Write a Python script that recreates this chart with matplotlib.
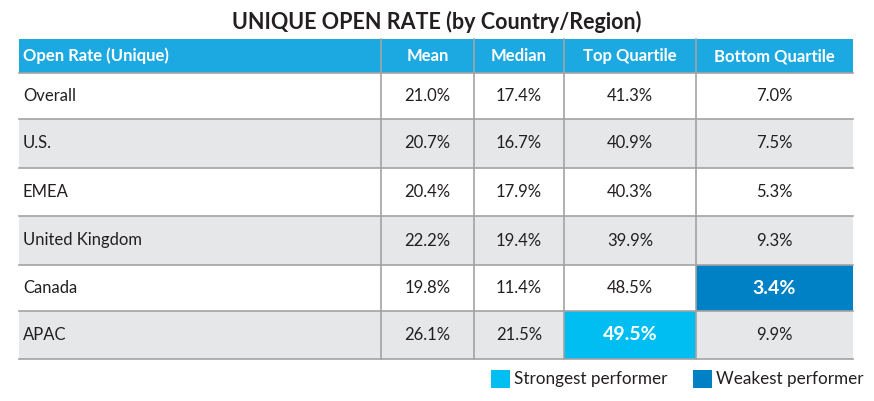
import matplotlib.pyplot as plt
from matplotlib.patches import Rectangle

# data
columnas = ['Open Rate (Unique)', 'Mean', 'Median', 'Top Quartile', 'Bottom Quartile']
regiones = ['Overall', 'U.S.', 'EMEA', 'United Kingdom', 'Canada', 'APAC']
mean = ['21.0%', '20.7%', '20.4%', '22.2%', '19.8%', '26.1%']
median = ['17.4%', '16.7%', '17.9%', '19.4%', '11.4%', '21.5%']
top_q = ['41.3%', '40.9%', '40.3%', '39.9%', '48.5%', '49.5%']
bottom_q = ['7.0%', '7.5%', '5.3%', '9.3%', '3.4%', '9.9%']
strongest = (5, 3)   # (row, col)
weakest = (4, 4)

plt.rcParams['font.family'] = ['Lato', 'DejaVu Sans']

# layout in pixels
col_x = [19, 381, 474, 564, 696, 853]
row_y = [39, 73, 119, 168, 216, 265, 311, 359]
azul_head = '#1CA9E1'
azul_fuerte = '#00BDF2'
azul_debil = '#0081C6'
gris = '#E6E7E8'
linea = '#A3A3A3'
texto = '#231F20'

fig = plt.figure(figsize=(8.74, 4.01), dpi=100)
ax = fig.add_axes([0, 0, 1, 1])
ax.set_xlim(0, 874)
ax.set_ylim(401, 0)
ax.axis('off')

ax.text(437, 22, 'UNIQUE OPEN RATE (by Country/Region)', ha='center', va='center',
        fontsize=15.5, fontweight='bold', color=texto)

# header
ax.add_patch(Rectangle((col_x[0], row_y[0]), col_x[-1]-col_x[0], row_y[1]-row_y[0],
                       facecolor=azul_head, edgecolor='none'))
yc = (row_y[0]+row_y[1])/2
for j, c in enumerate(columnas):
    if j == 0:
        ax.text(col_x[0]+4, yc, c, ha='left', va='center', color='white', fontsize=12, fontweight='bold')
    else:
        ax.text((col_x[j]+col_x[j+1])/2, yc, c, ha='center', va='center', color='white',
                fontsize=12, fontweight='bold')

tabla = list(zip(regiones, mean, median, top_q, bottom_q))
for i, fila in enumerate(tabla):
    y0, y1 = row_y[i+1], row_y[i+2]
    fondo = gris if i % 2 == 1 else 'white'
    ax.add_patch(Rectangle((col_x[0], y0), col_x[-1]-col_x[0], y1-y0, facecolor=fondo, edgecolor='none'))
    yc = (y0+y1)/2
    for j, v in enumerate(fila):
        if j == 0:
            ax.text(col_x[0]+4, yc, v, ha='left', va='center', color=texto, fontsize=12)
            continue
        xc = (col_x[j]+col_x[j+1])/2
        if (i, j) == strongest or (i, j) == weakest:
            c = azul_fuerte if (i, j) == strongest else azul_debil
            ax.add_patch(Rectangle((col_x[j], y0), col_x[j+1]-col_x[j], y1-y0, facecolor=c, edgecolor='none', zorder=2))
            ax.text(xc, yc, v, ha='center', va='center', color='white', fontsize=14, fontweight='bold', zorder=3)
        else:
            ax.text(xc, yc, v, ha='center', va='center', color=texto, fontsize=12)

# lines
for y in row_y[1:]:
    ax.plot([col_x[0], col_x[-1]], [y, y], color=linea, lw=1.2, zorder=4)
for x in col_x[1:-1]:
    ax.plot([x, x], [row_y[0], row_y[-1]], color=linea, lw=1.2, zorder=4)

# legend
ax.add_patch(Rectangle((491, 370), 19, 18, facecolor=azul_fuerte, edgecolor='none'))
ax.text(514, 379, 'Strongest performer', ha='left', va='center', color=texto, fontsize=12.3)
ax.add_patch(Rectangle((693, 370), 19, 18, facecolor=azul_debil, edgecolor='none'))
ax.text(716, 379, 'Weakest performer', ha='left', va='center', color=texto, fontsize=12.3)

plt.savefig('out.png', dpi=100)
